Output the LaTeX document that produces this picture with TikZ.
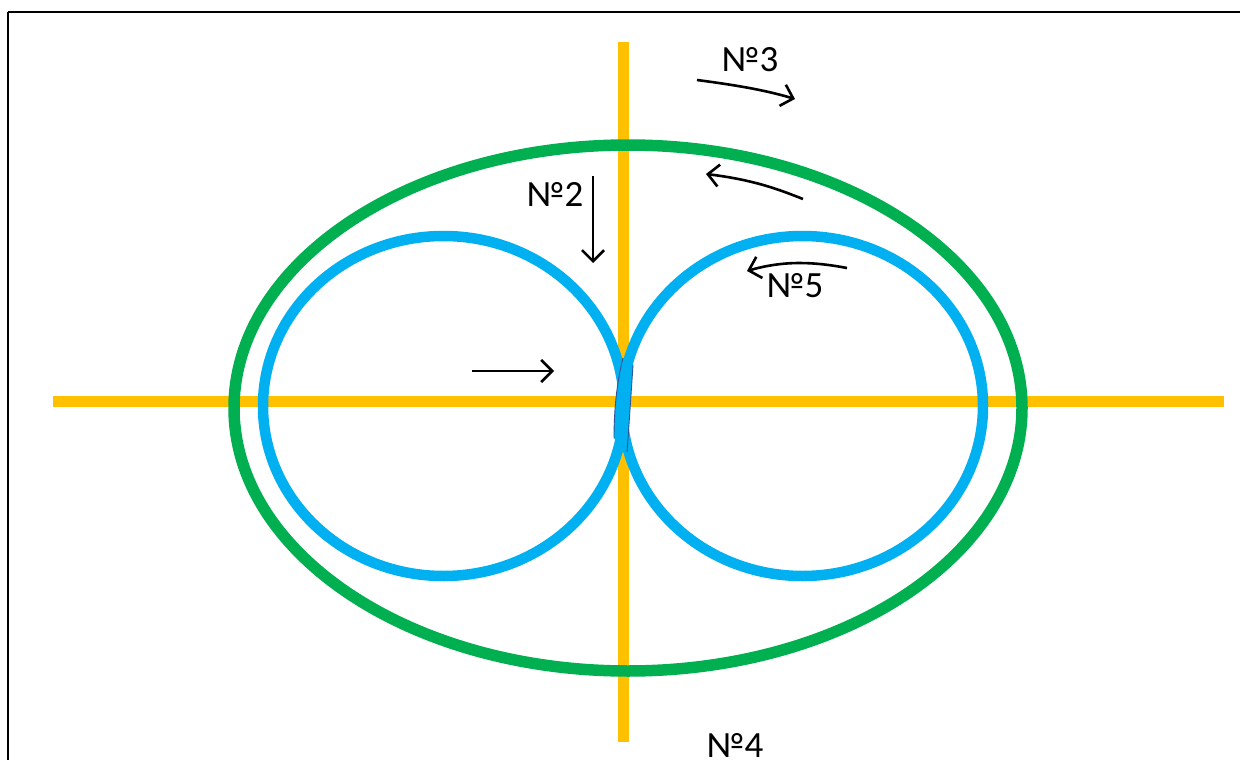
\documentclass[tikz,border=0pt]{standalone}
\usepackage{fontspec}
\setmainfont{Carlito}
\usetikzlibrary{arrows.meta}
\definecolor{yel}{HTML}{FFC000}
\definecolor{grn}{HTML}{00B050}
\definecolor{blu}{HTML}{00B0F0}
\definecolor{dkb}{HTML}{2F5597}
\tikzset{
  axis/.style={yel,line width=10.5pt},
  outer/.style={grn,line width=11.5pt},
  inner/.style={blu,line width=10.5pt},
  arr/.style={black,line width=2.6pt,-{Straight Barb[length=11pt,width=22pt,line width=2.6pt]}},
  lab/.style={font=\fontsize{37}{40}\selectfont,inner sep=0pt}
}
\begin{document}
\begin{tikzpicture}[x=1pt,y=-1pt]
\useasboundingbox (0,0) rectangle (1240,760);
\fill[white] (0,0) rectangle (1240,760);
\draw[black,line width=2.5pt] (8,12) -- (1260,12);
\draw[black,line width=2.5pt] (8,12) -- (8,780);
% axes
\coordinate (vt) at (623.5,42);
\coordinate (vb) at (623.5,742);
\coordinate (hl) at (53,401.5);
\coordinate (hr) at (1224,401.5);
\draw[axis] (vt) -- (vb);
\draw[axis] (hl) -- (hr);
% ellipses
\node (E) at (628,408) {};
\draw[outer] (E.center) ellipse [x radius=394, y radius=263];
\node (L) at (443.5,406) {};
\node (R) at (802.5,406) {};
\draw[inner] (L.center) ellipse [x radius=180.5, y radius=170];
\draw[inner] (R.center) ellipse [x radius=180.5, y radius=170];
% lens in the middle
\fill[blu] (623,358) .. controls (616,385) and (614,415) .. (614,438)
  -- (627,452) .. controls (629,425) and (631,395) .. (633,365) -- cycle;
\draw[dkb,line width=0.9pt] (623,358) .. controls (616,385) and (614,415) .. (614,438);
\draw[dkb,line width=0.9pt] (633,365) .. controls (631,395) and (629,425) .. (627,452);
% labels
\node[lab] (n3) at (750,60) {№3};
\node[lab] (n2) at (555,194) {№2};
\node[lab] (n5) at (795,286) {№5};
\node[lab] (n4) at (735,745) {№4};
% arrows
\coordinate (a1s) at (697,80);
\coordinate (a1e) at (795,99);
\draw[arr] (a1s) .. controls (735,85) and (765,90) .. (a1e);
\coordinate (a2s) at (803,199);
\coordinate (a2e) at (706,174);
\draw[arr] (a2s) .. controls (780,190) and (755,180) .. (a2e);
\coordinate (a3s) at (593,176);
\coordinate (a3e) at (593,263);
\draw[arr] (a3s) -- (a3e);
\coordinate (a4s) at (847,268);
\coordinate (a4e) at (747,271);
\draw[arr] (a4s) .. controls (815,262) and (785,260) .. (a4e);
\coordinate (a5s) at (472,371);
\coordinate (a5e) at (554,371);
\draw[arr] (a5s) -- (a5e);
\end{tikzpicture}
\end{document}
